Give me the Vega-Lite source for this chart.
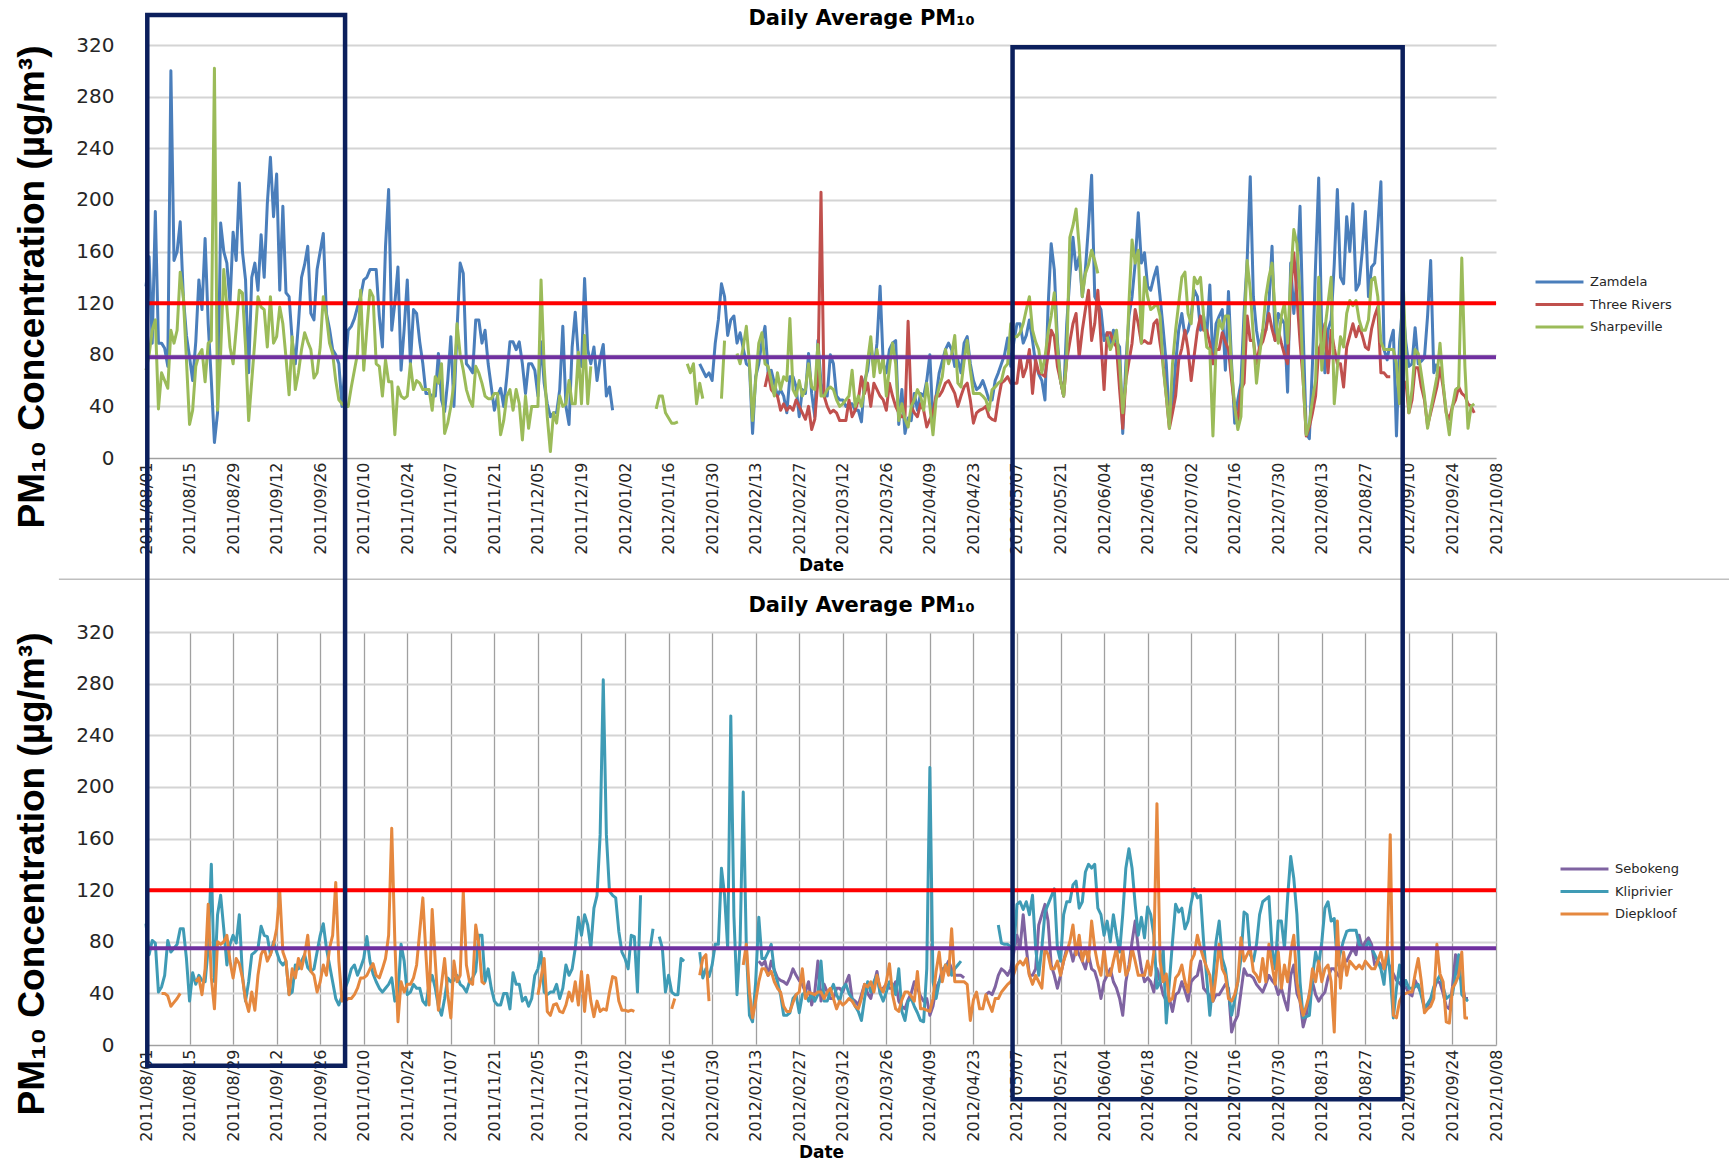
{
"$schema":"https://vega.github.io/schema/vega-lite/v6.json",
"background":"white",
"padding":{"left":13,"top":7,"right":5,"bottom":5},
"spacing":174,
"bounds":"flush",
"resolve":{"scale":{"color":"independent"}},
"config":{
 "view":{"stroke":null},
 "axisX":{"labelFont":"DejaVu Sans","labelFontSize":16,"labelColor":"#262626","labelAngle":-90,"labelPadding":4,"labelOverlap":false,"labelFlush":false,"ticks":false,"tickSize":0,"gridColor":"#A0A0A0","gridWidth":1.3,"domainColor":"#A0A0A0","titleFont":"DejaVu Sans","titleFontSize":17,"titleFontWeight":"bold","titleColor":"#000000","titlePadding":3},
 "axisY":{"labelFont":"DejaVu Sans","labelFontSize":20,"labelColor":"#262626","labelPadding":32,"labelOverlap":false,"ticks":false,"tickSize":0,"gridColor":"#D4D4D4","gridWidth":2,"domainColor":"#A0A0A0","titleFont":"Liberation Sans","titleFontSize":37,"titleFontWeight":"bold","titleColor":"#000000","titleAnchor":"end","titlePadding":24},
 "legend":{"title":null,"orient":"none","symbolType":"stroke","symbolSize":2300,"symbolStrokeWidth":3,"labelFont":"DejaVu Sans","labelFontSize":13,"labelColor":"#262626","labelOffset":5,"clipHeight":16,"rowPadding":6.5}
},
"datasets":{"pm":[
{"d":"2011-08-01","Z":133,"S":68,"K":94},
{"d":"2011-08-02","Z":156,"S":80,"K":70},
{"d":"2011-08-03","Z":89,"S":99,"K":81},
{"d":"2011-08-04","Z":191,"S":107,"K":79},
{"d":"2011-08-05","Z":89,"S":38,"K":41},
{"d":"2011-08-06","Z":89,"S":66,"K":45,"D":40},
{"d":"2011-08-07","Z":85,"S":60,"K":54,"D":40},
{"d":"2011-08-08","Z":71,"S":54,"K":81,"D":38},
{"d":"2011-08-09","Z":300,"S":99,"K":72,"D":30},
{"d":"2011-08-10","Z":153,"S":89,"K":75,"D":33},
{"d":"2011-08-11","Z":160,"S":99,"K":78,"D":36},
{"d":"2011-08-12","Z":183,"S":144,"K":90,"D":40},
{"d":"2011-08-13","Z":125,"S":125,"K":90},
{"d":"2011-08-14","Z":95,"S":76,"K":67},
{"d":"2011-08-15","Z":78,"S":26,"K":34},
{"d":"2011-08-16","Z":60,"S":37,"K":56},
{"d":"2011-08-17","Z":90,"S":71,"K":47,"D":49},
{"d":"2011-08-18","Z":138,"S":80,"K":54,"D":52},
{"d":"2011-08-19","Z":115,"S":84,"K":50,"D":39},
{"d":"2011-08-20","Z":170,"S":59,"K":49,"D":59},
{"d":"2011-08-21","Z":104,"S":89,"K":75,"D":109},
{"d":"2011-08-22","Z":60,"S":91,"K":140,"D":52},
{"d":"2011-08-23","Z":12,"S":302,"K":49,"D":28},
{"d":"2011-08-24","Z":35,"S":37,"K":101,"D":80},
{"d":"2011-08-25","Z":182,"S":81,"K":116,"D":78},
{"d":"2011-08-26","Z":160,"S":146,"K":90,"D":80},
{"d":"2011-08-27","Z":151,"S":117,"K":62,"D":85},
{"d":"2011-08-28","Z":120,"S":86,"K":78,"D":65},
{"d":"2011-08-29","Z":175,"S":73,"K":85,"D":52},
{"d":"2011-08-30","Z":153,"S":100,"K":79,"D":67},
{"d":"2011-08-31","Z":213,"S":130,"K":101,"D":63},
{"d":"2011-09-01","Z":160,"S":128,"K":54,"D":52},
{"d":"2011-09-02","Z":138,"S":86,"K":34,"D":35},
{"d":"2011-09-03","Z":66,"S":29,"K":49,"D":26},
{"d":"2011-09-04","Z":140,"S":60,"K":70,"D":41},
{"d":"2011-09-05","Z":151,"S":91,"K":72,"D":27},
{"d":"2011-09-06","Z":130,"S":125,"K":75,"D":54},
{"d":"2011-09-07","Z":173,"S":117,"K":92,"D":70},
{"d":"2011-09-08","Z":140,"S":115,"K":85,"D":75},
{"d":"2011-09-09","Z":197,"S":86,"K":84,"D":65},
{"d":"2011-09-10","Z":233,"S":125,"K":70,"D":70},
{"d":"2011-09-11","Z":187,"S":89,"K":80,"D":78},
{"d":"2011-09-12","Z":220,"S":94,"K":72,"D":90},
{"d":"2011-09-13","Z":130,"S":117,"K":65,"D":119},
{"d":"2011-09-14","Z":195,"S":104,"K":62,"D":72},
{"d":"2011-09-15","Z":128,"S":78,"K":65,"D":65},
{"d":"2011-09-16","Z":125,"S":49,"K":39,"D":39},
{"d":"2011-09-17","Z":91,"S":94,"K":41,"D":59},
{"d":"2011-09-18","Z":73,"S":53,"K":62,"D":52},
{"d":"2011-09-19","Z":104,"S":66,"K":59,"D":67},
{"d":"2011-09-20","Z":140,"S":84,"K":65,"D":59},
{"d":"2011-09-21","Z":150,"S":97,"K":70,"D":70},
{"d":"2011-09-22","Z":164,"S":90,"K":60,"D":85},
{"d":"2011-09-23","Z":112,"S":84,"K":57,"D":57},
{"d":"2011-09-24","Z":107,"S":62,"K":59,"D":54},
{"d":"2011-09-25","Z":146,"S":66,"K":72,"D":41},
{"d":"2011-09-26","Z":160,"S":86,"K":85,"D":49},
{"d":"2011-09-27","Z":174,"S":125,"K":94,"D":62},
{"d":"2011-09-28","Z":112,"S":110,"K":75,"D":54},
{"d":"2011-09-29","Z":100,"S":89,"K":62,"D":75},
{"d":"2011-09-30","Z":84,"S":81,"K":49,"D":85},
{"d":"2011-10-01","Z":80,"S":60,"K":36,"D":126},
{"d":"2011-10-02","Z":73,"S":45,"K":31,"D":65},
{"d":"2011-10-03","Z":40,"S":42,"K":38,"D":34},
{"d":"2011-10-04","Z":70,"S":40,"K":44,"D":34},
{"d":"2011-10-05","Z":99,"S":40,"K":50,"D":36},
{"d":"2011-10-06","Z":102,"S":55,"K":59,"D":36},
{"d":"2011-10-07","Z":108,"S":68,"K":62,"D":39},
{"d":"2011-10-08","Z":117,"S":81,"K":54,"D":44},
{"d":"2011-10-09","Z":125,"S":130,"K":60,"D":52},
{"d":"2011-10-10","Z":138,"S":68,"K":67,"D":52},
{"d":"2011-10-11","Z":140,"S":100,"K":84,"D":54},
{"d":"2011-10-12","Z":146,"S":130,"K":65,"D":59},
{"d":"2011-10-13","Z":146,"S":125,"K":55,"D":63},
{"d":"2011-10-14","Z":146,"S":73,"K":49,"D":54},
{"d":"2011-10-15","Z":110,"S":71,"K":44,"D":52},
{"d":"2011-10-16","Z":86,"S":48,"K":41,"D":59},
{"d":"2011-10-17","Z":164,"S":76,"K":44,"D":67},
{"d":"2011-10-18","Z":208,"S":59,"K":47,"D":85},
{"d":"2011-10-19","Z":99,"S":59,"K":52,"D":168},
{"d":"2011-10-20","Z":120,"S":18,"K":34,"D":80},
{"d":"2011-10-21","Z":148,"S":55,"K":39,"D":18},
{"d":"2011-10-22","Z":68,"S":48,"K":78,"D":49},
{"d":"2011-10-23","Z":100,"S":46,"K":65,"D":41},
{"d":"2011-10-24","Z":138,"S":48,"K":39,"D":47},
{"d":"2011-10-25","Z":73,"S":73,"K":41,"D":47},
{"d":"2011-10-26","Z":115,"S":53,"K":47,"D":52},
{"d":"2011-10-27","Z":112,"S":60,"K":44,"D":62},
{"d":"2011-10-28","Z":90,"S":58,"K":44,"D":88},
{"d":"2011-10-29","Z":73,"S":53,"K":34,"D":114},
{"d":"2011-10-30","Z":50,"S":53,"K":31,"D":70},
{"d":"2011-10-31","Z":50,"S":53,"K":47,"D":31},
{"d":"2011-11-01","Z":48,"S":37,"K":54,"D":105},
{"d":"2011-11-02","Z":48,"S":63,"K":44,"D":65},
{"d":"2011-11-03","Z":81,"S":58,"K":30,"D":27},
{"d":"2011-11-04","Z":45,"S":73,"K":23,"D":47},
{"d":"2011-11-05","Z":36,"S":19,"K":36,"D":67},
{"d":"2011-11-06","Z":60,"S":27,"K":52,"D":39},
{"d":"2011-11-07","Z":94,"S":40,"K":49,"D":21},
{"d":"2011-11-08","Z":40,"S":58,"K":50,"D":65},
{"d":"2011-11-09","Z":100,"S":104,"K":54,"D":49},
{"d":"2011-11-10","Z":151,"S":80,"K":47,"D":54},
{"d":"2011-11-11","Z":143,"S":68,"K":45,"D":119},
{"d":"2011-11-12","Z":73,"S":53,"K":41,"D":62},
{"d":"2011-11-13","Z":70,"S":45,"K":49,"D":49},
{"d":"2011-11-14","Z":66,"S":40,"K":52,"D":47},
{"d":"2011-11-15","Z":107,"S":71,"K":57,"D":93},
{"d":"2011-11-16","Z":107,"S":66,"K":85,"D":78},
{"d":"2011-11-17","Z":89,"S":58,"K":85,"D":49},
{"d":"2011-11-18","Z":99,"S":48,"K":49,"D":47},
{"d":"2011-11-19","Z":73,"S":46,"K":59},
{"d":"2011-11-20","Z":55,"S":46,"K":44},
{"d":"2011-11-21","Z":37,"S":50,"K":34},
{"d":"2011-11-22","Z":48,"S":50,"K":31},
{"d":"2011-11-23","Z":54,"S":18,"K":31},
{"d":"2011-11-24","Z":40,"S":29,"K":40},
{"d":"2011-11-25","Z":63,"S":48,"K":40},
{"d":"2011-11-26","Z":90,"S":53,"K":28},
{"d":"2011-11-27","Z":90,"S":37,"K":56},
{"d":"2011-11-28","Z":84,"S":53,"K":47},
{"d":"2011-11-29","Z":90,"S":42,"K":47},
{"d":"2011-11-30","Z":73,"S":14,"K":34},
{"d":"2011-12-01","Z":50,"S":48,"K":37},
{"d":"2011-12-02","Z":73,"S":23,"K":30},
{"d":"2011-12-03","Z":73,"S":40,"K":36},
{"d":"2011-12-04","Z":68,"S":40,"K":54},
{"d":"2011-12-05","Z":48,"S":40,"K":59,"D":39},
{"d":"2011-12-06","Z":90,"S":138,"K":72,"D":52},
{"d":"2011-12-07","Z":58,"S":71,"K":41,"D":67},
{"d":"2011-12-08","Z":42,"S":32,"K":39,"D":26},
{"d":"2011-12-09","Z":32,"S":5,"K":41,"D":23},
{"d":"2011-12-10","Z":35,"S":35,"K":41,"D":31},
{"d":"2011-12-11","Z":35,"S":27,"K":47,"D":32},
{"d":"2011-12-12","Z":53,"S":48,"K":36,"D":26},
{"d":"2011-12-13","Z":102,"S":40,"K":44,"D":25},
{"d":"2011-12-14","Z":40,"S":42,"K":62,"D":31},
{"d":"2011-12-15","Z":26,"S":60,"K":54,"D":41},
{"d":"2011-12-16","Z":86,"S":42,"K":59,"D":34},
{"d":"2011-12-17","Z":113,"S":42,"K":75,"D":49},
{"d":"2011-12-18","Z":78,"S":82,"K":99,"D":31},
{"d":"2011-12-19","Z":71,"S":42,"K":85,"D":57},
{"d":"2011-12-20","Z":139,"S":95,"K":101,"D":26},
{"d":"2011-12-21","Z":84,"S":42,"K":93,"D":54},
{"d":"2011-12-22","Z":73,"S":71,"K":75,"D":34},
{"d":"2011-12-23","Z":86,"K":106,"D":22},
{"d":"2011-12-24","Z":60,"K":116,"D":34},
{"d":"2011-12-25","Z":77,"K":163,"D":26},
{"d":"2011-12-26","Z":88,"K":283,"D":28},
{"d":"2011-12-27","Z":48,"K":163,"D":27},
{"d":"2011-12-28","Z":55,"K":119,"D":41},
{"d":"2011-12-29","Z":37,"K":116,"D":53},
{"d":"2011-12-30","K":114,"D":52},
{"d":"2011-12-31","K":88,"D":34},
{"d":"2012-01-01","K":72,"D":27},
{"d":"2012-01-02","K":67,"D":27},
{"d":"2012-01-03","K":59,"D":26},
{"d":"2012-01-04","K":85,"D":27},
{"d":"2012-01-05","K":84,"D":26},
{"d":"2012-01-06","K":41},
{"d":"2012-01-07","K":116},
{"d":"2012-01-08"},
{"d":"2012-01-09"},
{"d":"2012-01-10","K":74},
{"d":"2012-01-11","K":90},
{"d":"2012-01-12","S":38},
{"d":"2012-01-13","S":48,"K":84},
{"d":"2012-01-14","S":48,"K":75},
{"d":"2012-01-15","S":35,"K":41},
{"d":"2012-01-16","S":31,"K":54},
{"d":"2012-01-17","S":27,"K":41,"D":28},
{"d":"2012-01-18","S":27,"K":39,"D":36},
{"d":"2012-01-19","S":28,"K":39},
{"d":"2012-01-20","K":67},
{"d":"2012-01-21","K":65},
{"d":"2012-01-22","S":73},
{"d":"2012-01-23","S":66},
{"d":"2012-01-24","S":73},
{"d":"2012-01-25","S":42},
{"d":"2012-01-26","Z":73,"S":58,"K":72,"D":54},
{"d":"2012-01-27","Z":68,"S":46,"K":52,"D":67},
{"d":"2012-01-28","Z":63,"K":59,"D":70},
{"d":"2012-01-29","Z":66,"K":53,"D":34},
{"d":"2012-01-30","Z":60,"K":62},
{"d":"2012-01-31","Z":89,"K":78},
{"d":"2012-02-01","Z":107,"K":78},
{"d":"2012-02-02","Z":135,"S":46,"K":137},
{"d":"2012-02-03","Z":125,"S":91,"K":116},
{"d":"2012-02-04","Z":95,"K":75},
{"d":"2012-02-05","Z":107,"K":255},
{"d":"2012-02-06","Z":110,"K":100},
{"d":"2012-02-07","Z":89,"S":81,"K":39},
{"d":"2012-02-08","Z":97,"S":73,"K":80},
{"d":"2012-02-09","Z":85,"S":86,"K":196,"D":62},
{"d":"2012-02-10","Z":73,"S":102,"K":75,"D":78},
{"d":"2012-02-11","Z":71,"S":73,"K":23,"D":41},
{"d":"2012-02-12","Z":19,"S":29,"K":18,"D":21},
{"d":"2012-02-13","Z":63,"S":60,"K":49,"D":34},
{"d":"2012-02-14","Z":73,"S":89,"B":65,"K":99,"D":49},
{"d":"2012-02-15","Z":90,"S":97,"B":62,"K":67,"D":59},
{"d":"2012-02-16","Z":102,"T":55,"S":73,"B":65,"K":67,"D":59},
{"d":"2012-02-17","Z":66,"T":66,"S":71,"B":54,"K":72,"D":54},
{"d":"2012-02-18","Z":68,"T":53,"S":60,"B":65,"K":78,"D":57},
{"d":"2012-02-19","Z":58,"T":50,"S":48,"B":58,"K":57,"D":49},
{"d":"2012-02-20","Z":48,"T":48,"S":66,"B":52,"K":49,"D":44},
{"d":"2012-02-21","Z":53,"T":37,"S":53,"B":50,"K":39,"D":41},
{"d":"2012-02-22","Z":48,"T":42,"S":63,"B":49,"K":23,"D":30},
{"d":"2012-02-23","Z":35,"T":37,"S":60,"B":47,"K":23,"D":26},
{"d":"2012-02-24","Z":63,"T":40,"S":108,"B":52,"K":25,"D":26},
{"d":"2012-02-25","Z":63,"T":37,"S":53,"B":59,"K":36,"D":33},
{"d":"2012-02-26","Z":55,"T":45,"S":48,"B":54,"K":39,"D":39},
{"d":"2012-02-27","Z":32,"T":40,"S":60,"B":50,"K":25,"D":41},
{"d":"2012-02-28","Z":53,"T":35,"S":48,"B":47,"K":39,"D":59},
{"d":"2012-02-29","Z":50,"T":30,"S":53,"B":41,"K":41,"D":36},
{"d":"2012-03-01","Z":81,"T":40,"S":73,"B":49,"K":34,"D":41},
{"d":"2012-03-02","Z":50,"T":22,"S":55,"B":31,"K":39,"D":40},
{"d":"2012-03-03","Z":32,"T":30,"S":53,"B":41,"K":34,"D":39},
{"d":"2012-03-04","Z":91,"T":60,"S":88,"B":65,"K":39,"D":41},
{"d":"2012-03-05","Z":58,"T":206,"S":48,"B":34,"K":65,"D":41},
{"d":"2012-03-06","Z":48,"T":48,"S":48,"B":47,"K":34,"D":36},
{"d":"2012-03-07","Z":48,"T":40,"S":53,"B":41,"K":34,"D":41},
{"d":"2012-03-08","Z":80,"T":35,"S":55,"B":36,"K":41,"D":44},
{"d":"2012-03-09","Z":73,"T":37,"S":53,"B":36,"K":47,"D":36},
{"d":"2012-03-10","Z":48,"T":35,"S":45,"B":44,"K":39,"D":28},
{"d":"2012-03-11","Z":45,"T":29,"S":40,"B":44,"K":34,"D":34},
{"d":"2012-03-12","Z":45,"T":29,"S":42,"B":41,"K":44,"D":31},
{"d":"2012-03-13","Z":40,"T":29,"S":45,"B":48,"K":47,"D":33},
{"d":"2012-03-14","Z":42,"T":45,"S":48,"B":54,"K":40,"D":36},
{"d":"2012-03-15","Z":42,"T":32,"S":68,"B":36,"K":36,"D":34},
{"d":"2012-03-16","Z":37,"T":37,"S":40,"B":34,"K":30,"D":30},
{"d":"2012-03-17","Z":37,"T":45,"S":48,"B":31,"K":26,"D":28},
{"d":"2012-03-18","Z":28,"T":63,"S":40,"B":39,"K":19,"D":36},
{"d":"2012-03-19","Z":60,"T":50,"S":53,"B":47,"K":36,"D":47},
{"d":"2012-03-20","Z":68,"T":58,"S":75,"B":40,"K":49,"D":45},
{"d":"2012-03-21","Z":89,"T":40,"S":94,"B":36,"K":41,"D":49},
{"d":"2012-03-22","Z":68,"T":58,"S":63,"B":47,"K":49,"D":41},
{"d":"2012-03-23","Z":89,"T":53,"S":84,"B":57,"K":54,"D":54},
{"d":"2012-03-24","Z":133,"T":48,"S":66,"B":41,"K":40,"D":45},
{"d":"2012-03-25","Z":73,"T":45,"S":78,"B":44,"K":34,"D":41},
{"d":"2012-03-26","Z":66,"T":37,"S":48,"B":47,"K":41,"D":49},
{"d":"2012-03-27","Z":84,"T":58,"S":70,"B":44,"K":49,"D":63},
{"d":"2012-03-28","Z":89,"T":48,"S":89,"B":44,"K":47,"D":39},
{"d":"2012-03-29","Z":91,"T":40,"S":73,"B":49,"K":39,"D":28},
{"d":"2012-03-30","Z":26,"T":35,"S":29,"B":34,"K":59,"D":26},
{"d":"2012-03-31","Z":53,"T":32,"S":42,"B":30,"K":26,"D":35},
{"d":"2012-04-01","Z":19,"T":32,"S":30,"B":28,"K":19,"D":41},
{"d":"2012-04-02","Z":31,"T":106,"S":24,"B":35,"K":34,"D":41},
{"d":"2012-04-03","Z":29,"T":40,"S":40,"B":40,"K":36,"D":38},
{"d":"2012-04-04","Z":50,"T":35,"S":45,"B":49,"K":30,"D":34},
{"d":"2012-04-05","Z":37,"T":32,"S":53,"B":44,"K":25,"D":57},
{"d":"2012-04-06","Z":50,"T":42,"S":48,"B":38,"K":19,"D":28},
{"d":"2012-04-07","Z":48,"T":37,"S":37,"B":34,"K":18,"D":28},
{"d":"2012-04-08","Z":60,"T":24,"S":58,"B":36,"K":59,"D":27},
{"d":"2012-04-09","Z":80,"T":30,"S":40,"B":23,"K":215,"D":26},
{"d":"2012-04-10","Z":27,"T":35,"S":18,"B":30,"K":49,"D":36},
{"d":"2012-04-11","Z":48,"T":48,"S":45,"B":44,"K":36,"D":57},
{"d":"2012-04-12","Z":66,"T":48,"S":55,"B":49,"K":49,"D":72},
{"d":"2012-04-13","Z":75,"T":52,"S":63,"B":59,"K":54,"D":49},
{"d":"2012-04-14","Z":84,"T":58,"S":84,"B":60,"K":62,"D":62},
{"d":"2012-04-15","Z":89,"T":60,"S":73,"B":65,"K":62,"D":54},
{"d":"2012-04-16","Z":84,"T":55,"S":80,"B":59,"K":54,"D":90},
{"d":"2012-04-17","Z":71,"T":50,"S":95,"B":54,"K":59,"D":49},
{"d":"2012-04-18","Z":76,"T":40,"S":58,"B":54,"K":62,"D":49},
{"d":"2012-04-19","Z":66,"T":48,"S":55,"B":54,"K":65,"D":49},
{"d":"2012-04-20","Z":89,"T":55,"S":75,"B":52,"D":49},
{"d":"2012-04-21","Z":94,"T":58,"S":91,"D":47},
{"d":"2012-04-22","Z":73,"T":45,"S":68,"D":19},
{"d":"2012-04-23","Z":60,"T":27,"S":50,"D":35},
{"d":"2012-04-24","Z":53,"T":35,"S":50,"D":41},
{"d":"2012-04-25","Z":55,"T":37,"S":50,"D":28},
{"d":"2012-04-26","Z":60,"T":38,"S":48,"D":28},
{"d":"2012-04-27","Z":53,"T":40,"S":45,"B":39,"D":39},
{"d":"2012-04-28","Z":45,"T":32,"S":37,"B":41,"D":32},
{"d":"2012-04-29","Z":45,"T":30,"S":53,"B":39,"D":26},
{"d":"2012-04-30","Z":60,"T":29,"S":55,"B":45,"D":36},
{"d":"2012-05-01","Z":66,"T":45,"S":58,"B":54,"K":93,"D":36},
{"d":"2012-05-02","Z":73,"T":58,"S":60,"B":59,"K":79,"D":41},
{"d":"2012-05-03","Z":80,"T":60,"S":70,"B":57,"K":78,"D":44},
{"d":"2012-05-04","Z":93,"T":63,"S":73,"B":54,"K":78,"D":47},
{"d":"2012-05-05","Z":71,"T":58,"S":104,"B":59,"K":76,"D":49},
{"d":"2012-05-06","Z":90,"T":58,"S":94,"B":72,"K":75,"D":55},
{"d":"2012-05-07","Z":104,"T":58,"S":94,"B":85,"K":109,"D":62},
{"d":"2012-05-08","Z":104,"T":78,"S":97,"B":75,"K":111,"D":65},
{"d":"2012-05-09","Z":89,"T":63,"S":104,"B":101,"K":105,"D":62},
{"d":"2012-05-10","Z":95,"T":70,"S":115,"B":75,"K":111,"D":67},
{"d":"2012-05-11","Z":107,"T":84,"S":125,"B":54,"K":101,"D":54},
{"d":"2012-05-12","Z":91,"T":50,"S":99,"B":54,"K":116,"D":47},
{"d":"2012-05-13","Z":73,"T":76,"S":90,"B":59,"K":75,"D":54},
{"d":"2012-05-14","Z":65,"T":66,"S":84,"B":93,"K":54,"D":49},
{"d":"2012-05-15","Z":60,"T":65,"S":66,"B":101,"K":75,"D":44},
{"d":"2012-05-16","Z":45,"T":63,"S":78,"B":109,"K":103,"D":75},
{"d":"2012-05-17","Z":117,"T":80,"S":97,"B":96,"K":109,"D":70},
{"d":"2012-05-18","Z":166,"T":99,"S":110,"B":62,"K":115,"D":59},
{"d":"2012-05-19","Z":146,"T":94,"S":128,"B":54,"K":121,"D":59},
{"d":"2012-05-20","Z":91,"T":71,"S":86,"B":44,"K":75,"D":65},
{"d":"2012-05-21","Z":60,"T":60,"S":60,"B":54,"K":65,"D":54},
{"d":"2012-05-22","Z":48,"T":48,"S":48,"B":65,"K":101,"D":65},
{"d":"2012-05-23","Z":104,"T":76,"S":78,"B":75,"K":111,"D":72},
{"d":"2012-05-24","Z":140,"T":90,"S":171,"B":75,"K":111,"D":80},
{"d":"2012-05-25","Z":171,"T":104,"S":180,"B":65,"K":124,"D":93},
{"d":"2012-05-26","Z":146,"T":112,"S":193,"B":75,"K":127,"D":70},
{"d":"2012-05-27","Z":156,"T":78,"S":164,"B":70,"K":106,"D":85},
{"d":"2012-05-28","Z":125,"T":99,"S":125,"B":65,"K":111,"D":65},
{"d":"2012-05-29","Z":146,"T":115,"S":143,"B":59,"K":134,"D":75},
{"d":"2012-05-30","Z":180,"T":130,"S":150,"B":70,"K":140,"D":65},
{"d":"2012-05-31","Z":219,"T":91,"S":161,"B":59,"K":137,"D":96},
{"d":"2012-06-01","Z":125,"T":104,"S":153,"B":57,"K":140,"D":75},
{"d":"2012-06-02","Z":120,"T":130,"S":143,"B":49,"K":106,"D":62},
{"d":"2012-06-03","Z":115,"T":91,"B":36,"K":101,"D":54},
{"d":"2012-06-04","Z":91,"T":53,"B":49,"K":85,"D":75},
{"d":"2012-06-05","Z":97,"T":97,"S":94,"B":54,"K":96,"D":54},
{"d":"2012-06-06","Z":89,"T":97,"S":84,"B":59,"K":80,"D":54},
{"d":"2012-06-07","Z":99,"T":90,"S":90,"B":49,"K":101,"D":65},
{"d":"2012-06-08","Z":90,"T":86,"S":99,"B":44,"K":85,"D":75},
{"d":"2012-06-09","Z":86,"T":53,"S":73,"B":36,"K":72,"D":57},
{"d":"2012-06-10","Z":19,"T":23,"S":35,"B":23,"K":101,"D":75},
{"d":"2012-06-11","Z":73,"T":60,"S":58,"B":49,"K":137,"D":54},
{"d":"2012-06-12","Z":110,"T":75,"S":120,"B":62,"K":152,"D":59},
{"d":"2012-06-13","Z":125,"T":89,"S":169,"B":80,"K":137,"D":75},
{"d":"2012-06-14","Z":151,"T":115,"S":151,"B":96,"K":109,"D":65},
{"d":"2012-06-15","Z":190,"T":104,"S":161,"B":75,"K":85,"D":54},
{"d":"2012-06-16","Z":151,"T":89,"S":89,"B":59,"K":99,"D":54},
{"d":"2012-06-17","Z":159,"T":91,"S":140,"B":49,"K":83,"D":54},
{"d":"2012-06-18","Z":133,"T":89,"S":125,"B":52,"K":107,"D":65},
{"d":"2012-06-19","Z":130,"T":89,"S":115,"B":49,"K":101,"D":54},
{"d":"2012-06-20","Z":140,"T":104,"S":117,"B":41,"K":85,"D":72},
{"d":"2012-06-21","Z":148,"T":107,"S":120,"B":59,"K":44,"D":187},
{"d":"2012-06-22","Z":125,"T":89,"S":110,"B":49,"K":49,"D":65},
{"d":"2012-06-23","Z":100,"T":73,"S":70,"B":39,"K":75,"D":49},
{"d":"2012-06-24","Z":73,"T":48,"S":48,"B":34,"K":17,"D":55},
{"d":"2012-06-25","Z":27,"T":23,"S":23,"B":36,"K":49,"D":34},
{"d":"2012-06-26","Z":40,"T":35,"S":73,"B":26,"K":80,"D":36},
{"d":"2012-06-27","Z":73,"T":48,"S":99,"B":39,"K":109,"D":52},
{"d":"2012-06-28","Z":99,"T":76,"S":120,"B":41,"K":103,"D":55},
{"d":"2012-06-29","Z":112,"T":85,"S":140,"B":49,"K":106,"D":62},
{"d":"2012-06-30","Z":94,"T":99,"S":144,"B":42,"K":90,"D":49},
{"d":"2012-07-01","Z":99,"T":84,"S":112,"B":34,"K":96,"D":41},
{"d":"2012-07-02","Z":110,"T":60,"S":104,"B":49,"K":110,"D":65},
{"d":"2012-07-03","Z":130,"T":80,"S":140,"B":52,"K":121,"D":70},
{"d":"2012-07-04","Z":125,"T":99,"S":135,"B":54,"K":114,"D":85},
{"d":"2012-07-05","Z":99,"T":110,"S":140,"B":65,"K":116,"D":75},
{"d":"2012-07-06","Z":110,"T":99,"S":110,"B":44,"K":80,"D":67},
{"d":"2012-07-07","Z":94,"T":99,"S":86,"B":41,"K":52,"D":60},
{"d":"2012-07-08","Z":134,"T":89,"S":84,"B":38,"K":23,"D":54},
{"d":"2012-07-09","Z":73,"T":73,"S":17,"B":34,"K":50,"D":34},
{"d":"2012-07-10","Z":104,"T":84,"S":86,"B":39,"K":80,"D":54},
{"d":"2012-07-11","Z":110,"T":84,"S":107,"B":39,"K":96,"D":78},
{"d":"2012-07-12","Z":115,"T":97,"S":100,"B":43,"K":67,"D":59},
{"d":"2012-07-13","Z":68,"T":90,"S":110,"B":47,"K":59,"D":54},
{"d":"2012-07-14","Z":129,"T":84,"S":110,"B":44,"K":41,"D":36},
{"d":"2012-07-15","Z":73,"T":60,"S":68,"B":10,"K":23,"D":34},
{"d":"2012-07-16","Z":27,"T":40,"S":40,"B":18,"K":35,"D":39},
{"d":"2012-07-17","Z":45,"T":27,"S":22,"B":23,"K":49,"D":49},
{"d":"2012-07-18","Z":58,"T":53,"S":32,"B":41,"K":67,"D":83},
{"d":"2012-07-19","Z":112,"T":58,"S":94,"B":59,"K":103,"D":65},
{"d":"2012-07-20","Z":153,"T":110,"S":153,"B":54,"K":101,"D":70},
{"d":"2012-07-21","Z":218,"T":91,"S":130,"B":54,"K":70,"D":75},
{"d":"2012-07-22","Z":125,"T":91,"S":94,"B":52,"K":65,"D":57},
{"d":"2012-07-23","Z":99,"T":73,"S":58,"B":47,"K":78,"D":54},
{"d":"2012-07-24","Z":84,"T":86,"S":80,"B":44,"K":101,"D":49},
{"d":"2012-07-25","Z":99,"T":90,"S":99,"B":41,"K":111,"D":67},
{"d":"2012-07-26","Z":99,"T":99,"S":125,"B":47,"K":113,"D":49},
{"d":"2012-07-27","Z":120,"T":112,"S":140,"B":54,"K":115,"D":78},
{"d":"2012-07-28","Z":164,"T":100,"S":151,"B":50,"K":75,"D":62},
{"d":"2012-07-29","Z":91,"T":91,"S":112,"B":47,"K":59,"D":47},
{"d":"2012-07-30","Z":112,"T":99,"S":89,"B":39,"K":96,"D":72},
{"d":"2012-07-31","Z":108,"T":89,"S":110,"B":44,"K":96,"D":44},
{"d":"2012-08-01","Z":104,"T":80,"S":120,"B":35,"K":75,"D":62},
{"d":"2012-08-02","Z":51,"T":73,"S":89,"B":27,"K":114,"D":49},
{"d":"2012-08-03","Z":151,"T":130,"S":140,"B":54,"K":146,"D":72},
{"d":"2012-08-04","Z":112,"T":159,"S":177,"B":62,"K":129,"D":85},
{"d":"2012-08-05","Z":140,"T":125,"S":166,"B":40,"K":101,"D":49},
{"d":"2012-08-06","Z":195,"T":90,"S":125,"B":34,"K":49,"D":34},
{"d":"2012-08-07","Z":99,"T":60,"S":60,"B":14,"K":21,"D":23},
{"d":"2012-08-08","Z":19,"T":17,"S":18,"B":23,"K":22,"D":30},
{"d":"2012-08-09","Z":15,"T":24,"S":27,"B":40,"K":23,"D":39},
{"d":"2012-08-10","Z":73,"T":35,"S":45,"B":49,"K":52,"D":59},
{"d":"2012-08-11","Z":150,"T":48,"S":60,"B":39,"K":72,"D":49},
{"d":"2012-08-12","Z":217,"T":84,"S":140,"B":34,"K":62,"D":65},
{"d":"2012-08-13","Z":94,"T":90,"S":68,"B":38,"K":80,"D":49},
{"d":"2012-08-14","Z":66,"T":104,"S":100,"B":41,"K":106,"D":59},
{"d":"2012-08-15","Z":99,"T":66,"S":120,"B":52,"K":111,"D":62},
{"d":"2012-08-16","Z":107,"T":99,"S":140,"B":59,"K":96,"D":49},
{"d":"2012-08-17","Z":150,"T":85,"S":42,"B":59,"K":98,"D":10},
{"d":"2012-08-18","Z":208,"T":73,"S":70,"B":55,"K":62,"D":96},
{"d":"2012-08-19","Z":140,"T":73,"S":94,"B":52,"K":72,"D":44},
{"d":"2012-08-20","Z":135,"T":55,"S":86,"B":65,"K":81,"D":72},
{"d":"2012-08-21","Z":187,"T":86,"S":112,"B":65,"K":88,"D":54},
{"d":"2012-08-22","Z":160,"T":95,"S":122,"B":70,"K":89,"D":65},
{"d":"2012-08-23","Z":197,"T":104,"S":118,"B":75,"K":89,"D":62},
{"d":"2012-08-24","Z":130,"T":94,"S":122,"B":70,"K":89,"D":59},
{"d":"2012-08-25","Z":135,"T":102,"S":107,"B":85,"K":78,"D":62},
{"d":"2012-08-26","Z":160,"T":95,"S":99,"B":75,"K":75,"D":59},
{"d":"2012-08-27","Z":191,"T":86,"S":99,"B":80,"K":75,"D":65},
{"d":"2012-08-28","Z":125,"T":84,"S":107,"B":83,"K":80,"D":62},
{"d":"2012-08-29","Z":148,"T":100,"S":138,"B":78,"K":75,"D":59},
{"d":"2012-08-30","Z":151,"T":110,"S":140,"B":62,"K":70,"D":59},
{"d":"2012-08-31","Z":180,"T":117,"S":125,"B":65,"K":65,"D":65},
{"d":"2012-09-01","Z":214,"T":66,"S":90,"B":62,"K":59,"D":72},
{"d":"2012-09-02","Z":84,"T":66,"S":84,"B":59,"K":47,"D":59},
{"d":"2012-09-03","Z":76,"T":63,"S":84,"B":65,"K":75,"D":72},
{"d":"2012-09-04","Z":90,"T":63,"S":84,"B":60,"K":54,"D":163},
{"d":"2012-09-05","Z":99,"S":84,"B":55,"K":21,"D":23},
{"d":"2012-09-06","Z":17,"S":73,"B":50,"K":44,"D":21},
{"d":"2012-09-07","Z":90,"S":42,"B":48,"K":62,"D":34},
{"d":"2012-09-08","Z":120,"S":148,"B":45,"K":41,"D":39},
{"d":"2012-09-09","Z":90,"T":60,"S":80,"B":45,"K":50,"D":40},
{"d":"2012-09-10","Z":71,"T":35,"S":35,"B":40,"K":44,"D":41},
{"d":"2012-09-11","Z":73,"T":45,"S":53,"B":38,"K":44,"D":41},
{"d":"2012-09-12","Z":101,"T":70,"S":84,"B":50,"K":45,"D":55},
{"d":"2012-09-13","Z":73,"T":70,"S":81,"B":45,"K":47,"D":67},
{"d":"2012-09-14","Z":75,"T":55,"S":65,"B":40,"K":38,"D":49},
{"d":"2012-09-15","Z":78,"T":45,"S":48,"B":30,"K":28,"D":25},
{"d":"2012-09-16","Z":110,"T":25,"S":23,"B":30,"K":32,"D":28},
{"d":"2012-09-17","Z":153,"T":35,"S":37,"B":35,"K":36,"D":30},
{"d":"2012-09-18","Z":66,"T":45,"S":50,"B":42,"K":45,"D":36},
{"d":"2012-09-19","Z":73,"T":55,"S":63,"B":50,"K":50,"D":78},
{"d":"2012-09-20","T":70,"S":89,"B":48,"K":54,"D":55},
{"d":"2012-09-21","T":55,"S":58,"B":40,"K":45,"D":49},
{"d":"2012-09-22","T":35,"S":35,"B":30,"K":36,"D":18},
{"d":"2012-09-23","T":30,"S":18,"B":28,"K":38,"D":17},
{"d":"2012-09-24","T":40,"S":40,"B":45,"K":39,"D":44},
{"d":"2012-09-25","T":45,"S":53,"B":70,"K":55,"D":48},
{"d":"2012-09-26","T":55,"S":55,"B":55,"K":70,"D":54},
{"d":"2012-09-27","T":50,"S":155,"B":49,"K":39,"D":72},
{"d":"2012-09-28","T":48,"S":71,"B":36,"K":36,"D":21},
{"d":"2012-09-29","T":42,"S":23,"B":36,"K":34,"D":21},
{"d":"2012-09-30","T":40,"S":40},
{"d":"2012-10-01","T":35,"S":42}
]},
"vconcat":[
 {
  "width":1350,"height":413,
  "resolve":{"axis":{"x":"independent"}},
  "layer":[
   {"data":{"values":[{"a":"2011-07-04","b":"2012-12-23","v":-94}]},
    "mark":{"type":"rule","color":"#BFBFBF","strokeWidth":1.5},
    "encoding":{"x":{"field":"a","type":"temporal",
      "scale":{"type":"utc","domain":[{"year":2011,"month":8,"date":1,"utc":true},{"year":2012,"month":10,"date":8,"utc":true}]},
      "axis":{"orient":"top","title":"Daily Average PM₁₀","labels":false,"ticks":false,"domain":false,"grid":false,"titleFont":"DejaVu Sans","titleFontSize":21,"titleFontWeight":"bold","titleColor":"#000000","titleX":715,"titleY":-21,"titleAlign":"center","titleBaseline":"alphabetic"}},
     "x2":{"field":"b"},"y":{"field":"v","type":"quantitative"}}},
   {"data":{"name":"pm"},
    "transform":[{"fold":["Z","T","S"],"as":["k","v"]}],
    "mark":{"type":"line","strokeWidth":3,"strokeJoin":"round","invalid":"break-paths-filter-domains"},
    "encoding":{
     "x":{"field":"d","type":"temporal","title":"Date",
      "scale":{"type":"utc","domain":[{"year":2011,"month":8,"date":1,"utc":true},{"year":2012,"month":10,"date":8,"utc":true}]},
      "axis":{"labelExpr":"utcFormat(datum.value, '%Y/%m/%d')","values":[{"year":2011,"month":8,"date":1,"utc":true},{"year":2011,"month":8,"date":15,"utc":true},{"year":2011,"month":8,"date":29,"utc":true},{"year":2011,"month":9,"date":12,"utc":true},{"year":2011,"month":9,"date":26,"utc":true},{"year":2011,"month":10,"date":10,"utc":true},{"year":2011,"month":10,"date":24,"utc":true},{"year":2011,"month":11,"date":7,"utc":true},{"year":2011,"month":11,"date":21,"utc":true},{"year":2011,"month":12,"date":5,"utc":true},{"year":2011,"month":12,"date":19,"utc":true},{"year":2012,"month":1,"date":2,"utc":true},{"year":2012,"month":1,"date":16,"utc":true},{"year":2012,"month":1,"date":30,"utc":true},{"year":2012,"month":2,"date":13,"utc":true},{"year":2012,"month":2,"date":27,"utc":true},{"year":2012,"month":3,"date":12,"utc":true},{"year":2012,"month":3,"date":26,"utc":true},{"year":2012,"month":4,"date":9,"utc":true},{"year":2012,"month":4,"date":23,"utc":true},{"year":2012,"month":5,"date":7,"utc":true},{"year":2012,"month":5,"date":21,"utc":true},{"year":2012,"month":6,"date":4,"utc":true},{"year":2012,"month":6,"date":18,"utc":true},{"year":2012,"month":7,"date":2,"utc":true},{"year":2012,"month":7,"date":16,"utc":true},{"year":2012,"month":7,"date":30,"utc":true},{"year":2012,"month":8,"date":13,"utc":true},{"year":2012,"month":8,"date":27,"utc":true},{"year":2012,"month":9,"date":10,"utc":true},{"year":2012,"month":9,"date":24,"utc":true},{"year":2012,"month":10,"date":8,"utc":true}]}},
     "y":{"field":"v","type":"quantitative","title":"PM₁₀ Concentration (µg/m³)",
      "scale":{"domain":[0,320],"nice":false},
      "axis":{"values":[0,20,40,60,80,100,120,140,160,180,200,220,240,260,280,300,320]}},
     "color":{"field":"k","type":"nominal",
      "scale":{"domain":["Z","T","S"],"range":["#4A7EBB","#C0504D","#9BBB59"]},
      "legend":{"legendX":1388,"legendY":229,"labelExpr":"datum.label == 'Z' ? 'Zamdela' : datum.label == 'T' ? 'Three Rivers' : 'Sharpeville'"}}
    }},
   {"data":{"values":[{"v":120}]},"mark":{"type":"rule","color":"#FF0000","strokeWidth":4},"encoding":{"y":{"field":"v","type":"quantitative"}}},
   {"data":{"values":[{"v":78}]},"mark":{"type":"rule","color":"#7030A0","strokeWidth":4},"encoding":{"y":{"field":"v","type":"quantitative"}}}
  ]
 },
 {
  "width":1350,"height":413,
  "resolve":{"axis":{"x":"independent"}},
  "layer":[
   {"data":{"name":"pm"},
    "transform":[{"fold":["B","K","D"],"as":["k","v"]}],
    "mark":{"type":"line","strokeWidth":3,"strokeJoin":"round","invalid":"break-paths-filter-domains"},
    "encoding":{
     "x":{"field":"d","type":"temporal","title":"Date",
      "scale":{"type":"utc","domain":[{"year":2011,"month":8,"date":1,"utc":true},{"year":2012,"month":10,"date":8,"utc":true}]},
      "axis":{"labelExpr":"utcFormat(datum.value, '%Y/%m/%d')","values":[{"year":2011,"month":8,"date":1,"utc":true},{"year":2011,"month":8,"date":15,"utc":true},{"year":2011,"month":8,"date":29,"utc":true},{"year":2011,"month":9,"date":12,"utc":true},{"year":2011,"month":9,"date":26,"utc":true},{"year":2011,"month":10,"date":10,"utc":true},{"year":2011,"month":10,"date":24,"utc":true},{"year":2011,"month":11,"date":7,"utc":true},{"year":2011,"month":11,"date":21,"utc":true},{"year":2011,"month":12,"date":5,"utc":true},{"year":2011,"month":12,"date":19,"utc":true},{"year":2012,"month":1,"date":2,"utc":true},{"year":2012,"month":1,"date":16,"utc":true},{"year":2012,"month":1,"date":30,"utc":true},{"year":2012,"month":2,"date":13,"utc":true},{"year":2012,"month":2,"date":27,"utc":true},{"year":2012,"month":3,"date":12,"utc":true},{"year":2012,"month":3,"date":26,"utc":true},{"year":2012,"month":4,"date":9,"utc":true},{"year":2012,"month":4,"date":23,"utc":true},{"year":2012,"month":5,"date":7,"utc":true},{"year":2012,"month":5,"date":21,"utc":true},{"year":2012,"month":6,"date":4,"utc":true},{"year":2012,"month":6,"date":18,"utc":true},{"year":2012,"month":7,"date":2,"utc":true},{"year":2012,"month":7,"date":16,"utc":true},{"year":2012,"month":7,"date":30,"utc":true},{"year":2012,"month":8,"date":13,"utc":true},{"year":2012,"month":8,"date":27,"utc":true},{"year":2012,"month":9,"date":10,"utc":true},{"year":2012,"month":9,"date":24,"utc":true},{"year":2012,"month":10,"date":8,"utc":true}]}},
     "y":{"field":"v","type":"quantitative","title":"PM₁₀ Concentration (µg/m³)",
      "scale":{"domain":[0,320],"nice":false},
      "axis":{"values":[0,20,40,60,80,100,120,140,160,180,200,220,240,260,280,300,320]}},
     "color":{"field":"k","type":"nominal",
      "scale":{"domain":["B","K","D"],"range":["#7F63A1","#3F9BB5","#E5883F"]},
      "legend":{"legendX":1413,"legendY":229,"labelExpr":"datum.label == 'B' ? 'Sebokeng' : datum.label == 'K' ? 'Kliprivier' : 'Diepkloof'"}}
    }},
   {"data":{"values":[{"v":120}]},"mark":{"type":"rule","color":"#FF0000","strokeWidth":4},"encoding":{"y":{"field":"v","type":"quantitative"}}},
   {"data":{"values":[{"v":75}]},"mark":{"type":"rule","color":"#7030A0","strokeWidth":4},"encoding":{"y":{"field":"v","type":"quantitative"}}},
   {"data":{"values":[{"a":"2011-08-01T10:00:00Z","b":"2011-10-04T00:00:00Z","lo":-16,"hi":798},{"a":"2012-05-05T14:00:00Z","b":"2012-09-08T00:00:00Z","lo":-42,"hi":773}]},
    "mark":{"type":"rect","fill":"transparent","stroke":"#0B1F5C","strokeWidth":4.5},
    "encoding":{"x":{"field":"a","type":"temporal",
      "scale":{"type":"utc","domain":[{"year":2011,"month":8,"date":1,"utc":true},{"year":2012,"month":10,"date":8,"utc":true}]},
      "axis":{"orient":"top","title":"Daily Average PM₁₀","labels":false,"ticks":false,"domain":false,"grid":false,"titleFont":"DejaVu Sans","titleFontSize":21,"titleFontWeight":"bold","titleColor":"#000000","titleX":715,"titleY":-21,"titleAlign":"center","titleBaseline":"alphabetic"}},
     "x2":{"field":"b"},"y":{"field":"hi","type":"quantitative"},"y2":{"field":"lo"}}}
  ]
 }
]
}
